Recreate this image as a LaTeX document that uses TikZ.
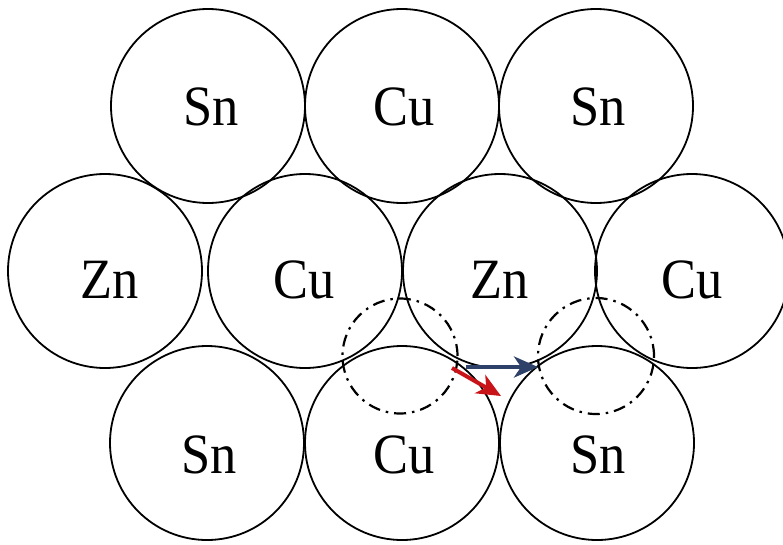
\documentclass[tikz,border=0pt]{standalone}
\usepackage{fontspec}
\setmainfont{Liberation Serif}
\usetikzlibrary{arrows.meta}
\definecolor{arrblue}{RGB}{45,65,105}
\definecolor{arrred}{RGB}{200,20,25}
\begin{document}
\begin{tikzpicture}[x=1pt,y=-1pt,
  atom/.style={circle,draw=black,line width=1.8pt,minimum size=194pt,inner sep=0pt},
  lbl/.style={anchor=base,font=\fontsize{57}{57}\selectfont,xscale=0.92},
  void/.style={draw=black,line width=2.2pt,dash pattern=on 12pt off 6pt on 2.5pt off 6pt},
  mv/.style={line width=4pt,-{Stealth[length=24pt,width=21pt,inset=7pt]}}]
\useasboundingbox (0,0) rectangle (783,544);
% top row
\node[atom] (t1) at (208,106) {};
\node[atom] (t2) at (402,106) {};
\node[atom] (t3) at (596,106) {};
% middle row
\node[atom] (m1) at (105,271) {};
\node[atom] (m2) at (305,271) {};
\node[atom] (m3) at (500,271) {};
\node[atom] (m4) at (692,271) {};
% bottom row
\node[atom] (b1) at (207,443) {};
\node[atom] (b2) at (402,443) {};
\node[atom] (b3) at (597,443) {};
% labels
\node[lbl] at (211,125) {Sn};
\node[lbl] at (404,125) {Cu};
\node[lbl] at (598,125) {Sn};
\node[lbl] at (110,298) {Zn};
\node[lbl] at (304,298) {Cu};
\node[lbl] at (500,298) {Zn};
\node[lbl] at (692,298) {Cu};
\node[lbl] at (209,473) {Sn};
\node[lbl] at (404,473) {Cu};
\node[lbl] at (598,473) {Sn};
% interstitial voids
\node[circle,void,minimum size=115pt,inner sep=0pt] (v1) at (400,356) {};
\node[circle,void,minimum size=116pt,inner sep=0pt] (v2) at (596,356) {};
% arrows
\coordinate (a0) at (466,367);
\coordinate (a1) at (538,367);
\coordinate (r0) at (452,368);
\coordinate (r1) at (501,396);
\draw[mv,draw=arrblue,fill=arrblue] (a0) -- (a1);
\draw[mv,draw=arrred,fill=arrred] (r0) -- (r1);
\end{tikzpicture}
\end{document}
